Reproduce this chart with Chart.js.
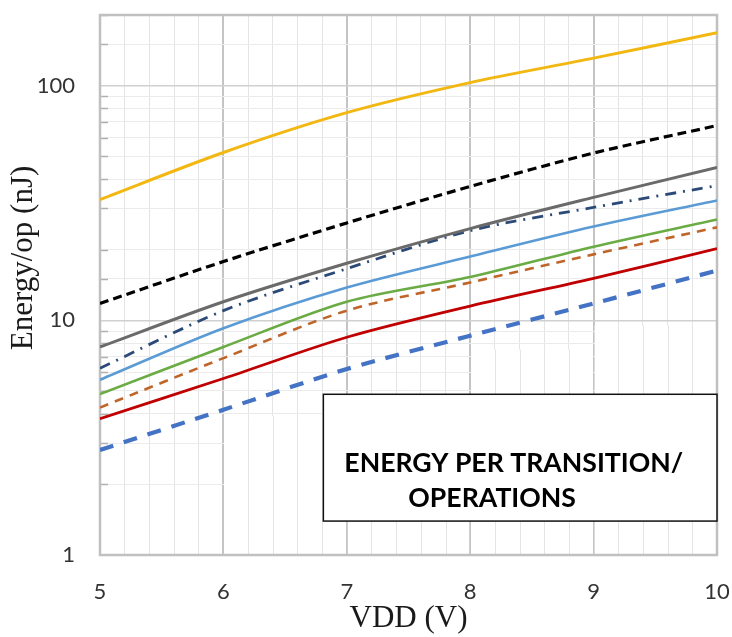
<!DOCTYPE html>
<html><head><meta charset="utf-8">
<script src="https://cdn.jsdelivr.net/npm/chart.js@4.4.0/dist/chart.umd.min.js"></script>
<style>html,body{margin:0;padding:0;background:#fff;}#wrap{width:732px;height:637px;}</style>
</head><body><div id="wrap"><canvas id="c" width="732" height="637"></canvas></div>
<script>
// ---- data ----
const vdd = [5, 6, 7, 8, 9, 10];
const seriesYellow   = [32.7, 51.9, 76.7, 103, 131, 168];
const seriesBlackDash = [11.8, 17.8, 26.0, 37.2, 51.6, 67.6];
const seriesGray     = [7.7, 12.0, 17.5, 24.6, 33.4, 44.8];
const seriesDashDot  = [6.25, 11.0, 16.6, 24.1, 30.3, 37.5];
const seriesLightBlue = [5.58, 9.25, 13.8, 18.7, 25.1, 32.4];
const seriesGreen    = [4.85, 7.7, 12.0, 15.3, 20.6, 26.9];
const seriesBrownDash = [4.25, 6.9, 11.0, 14.5, 19.1, 24.9];
const seriesRed      = [3.81, 5.65, 8.47, 11.5, 15.1, 20.2];
const seriesBlueDash = [2.8, 4.16, 6.2, 8.6, 11.8, 16.3];
const xTickLabels = [5, 6, 7, 8, 9, 10];
const yTickLabels = [1, 10, 100];
const xTitle = 'VDD (V)';
const yTitle = 'Energy/op (nJ)';
const noteLines = ['ENERGY PER TRANSITION/', 'OPERATIONS'];

// ---- decoration geometry (data units) ----
const noteBox = {x0: 6.81, x1: 10.0, y0: 1.395, y1: 4.84};
const blankPatches = [
  {x0: 6, x1: 7, y0: 1, y1: 3.9},
  {x0: 7, x1: 8, y0: 1, y1: 1.4},
  {x0: 8, x1: 9, y0: 1, y1: 7.5},
  {x0: 9, x1: 10, y0: 1, y1: 9.5}
];

const pts = arr => vdd.map((x, i) => ({x, y: arr[i]}));
const isInt = v => Math.abs(v - Math.round(v)) < 1e-6;
const isDecade = v => Math.abs(Math.log10(v) - Math.round(Math.log10(v))) < 1e-6;
const MINOR_V = '#e4e4e4', MAJOR_V = '#c4c4c4';

function ds(label, arr, color, width, dash) {
  return {label, data: pts(arr), borderColor: color, backgroundColor: color,
    borderWidth: width, borderDash: dash || [], pointRadius: 0, fill: false,
    tension: 0.3, borderCapStyle: 'butt'};
}
function zeroPad(s) { s.paddingTop = 0; s.paddingBottom = 0; s.paddingLeft = 0; s.paddingRight = 0; }

const decor = {
  id: 'decor',
  beforeDatasetsDraw(chart) {
    const {ctx, chartArea: a, scales: {x, y}} = chart;
    ctx.save();
    blankPatches.forEach(p => {
      const l = x.getPixelForValue(p.x0), r = x.getPixelForValue(p.x1);
      const t = y.getPixelForValue(p.y1), b = y.getPixelForValue(p.y0);
      ctx.fillStyle = '#fff';
      ctx.fillRect(l + 1, t, r - l - 2, b - t);
      ctx.strokeStyle = MINOR_V; ctx.lineWidth = 1;
      x.ticks.forEach(tk => {
        if (tk.value > p.x0 + 1e-6 && tk.value < p.x1 - 1e-6) {
          const px = Math.round(x.getPixelForValue(tk.value)) + 0.5;
          ctx.beginPath(); ctx.moveTo(px, t); ctx.lineTo(px, b); ctx.stroke();
        }
      });
    });
    // minor tick marks inside left axis
    ctx.strokeStyle = '#b0b0b0'; ctx.lineWidth = 1.5;
    y.ticks.forEach(tk => {
      if (!isDecade(tk.value)) {
        const py = Math.round(y.getPixelForValue(tk.value)) + 0.5;
        ctx.beginPath(); ctx.moveTo(a.left, py); ctx.lineTo(a.left + 8, py); ctx.stroke();
      }
    });
    // plot border
    ctx.strokeStyle = '#c0c0c0'; ctx.lineWidth = 2.5;
    ctx.strokeRect(a.left, a.top, a.right - a.left, a.bottom - a.top);
    ctx.restore();
  },
  afterDatasetsDraw(chart) {
    const {ctx, scales: {x, y}} = chart;
    ctx.save();
    const l = x.getPixelForValue(noteBox.x0), r = x.getPixelForValue(noteBox.x1);
    const t = y.getPixelForValue(noteBox.y1), b = y.getPixelForValue(noteBox.y0);
    ctx.fillStyle = '#fff';
    ctx.fillRect(l, t, r - l, b - t);
    ctx.strokeStyle = '#111'; ctx.lineWidth = 1.5;
    ctx.strokeRect(l, t, r - l, b - t);
    ctx.font = 'bold 100px Lato';
    const w = ctx.measureText(noteLines[0]).width;
    const fs = 100 * 339 / w;
    ctx.font = 'bold ' + fs.toFixed(2) + 'px Lato';
    ctx.fillStyle = '#000';
    ctx.textAlign = 'left'; ctx.textBaseline = 'middle';
    ctx.fillText(noteLines[0], l + 21, t + 69);
    ctx.fillText(noteLines[1], l + 85, t + 104);
    // y axis title
    ctx.translate(24, 258);
    ctx.rotate(-Math.PI / 2);
    ctx.font = '31px "Liberation Serif"';
    ctx.fillStyle = '#1a1a1a';
    ctx.textAlign = 'center'; ctx.textBaseline = 'middle';
    ctx.fillText(yTitle, 0, 0);
    ctx.restore();
  }
};

new Chart(document.getElementById('c'), {
  type: 'line',
  data: {datasets: [
    ds('Series 1', seriesYellow, '#f3b712', 3),
    ds('Series 2', seriesBlackDash, '#000000', 3.2, [9, 5]),
    ds('Series 3', seriesGray, '#6a6a6a', 3),
    ds('Series 4', seriesDashDot, '#2c4a78', 2.8, [11, 7, 2, 7]),
    ds('Series 5', seriesLightBlue, '#5b9bd5', 2.6),
    ds('Series 6', seriesGreen, '#6aab44', 2.6),
    ds('Series 7', seriesBrownDash, '#c0652a', 2.6, [9, 7]),
    ds('Series 8', seriesRed, '#c00000', 2.8),
    ds('Series 9', seriesBlueDash, '#4472c4', 4.2, [14, 11])
  ]},
  options: {
    responsive: false, animation: false,
    layout: {padding: {top: 15, right: 15, left: 0, bottom: 0}},
    plugins: {legend: {display: false}, tooltip: {enabled: false}},
    scales: {
      x: {
        type: 'linear', min: 5, max: 10,
        afterFit: s => { s.height = 82; zeroPad(s); },
        ticks: {stepSize: 0.2, autoSkip: false, maxRotation: 0, padding: 24,
          font: {family: 'Lato', size: 22}, color: '#333',
          callback: v => (isInt(v) && xTickLabels.includes(Math.round(v))) ? String(Math.round(v)) : ''},
        grid: {drawTicks: false,
          color: c => isInt(c.tick.value) ? MAJOR_V : MINOR_V,
          lineWidth: c => isInt(c.tick.value) ? 2 : 1},
        border: {display: false},
        title: {display: true, text: xTitle, font: {family: 'Liberation Serif', size: 31}, color: '#1a1a1a', padding: {top: 0, bottom: 0}}
      },
      y: {
        type: 'logarithmic', min: 1, max: 200,
        afterFit: s => { s.width = 100; zeroPad(s); },
        ticks: {autoSkip: false, padding: 25, font: {family: 'Lato', size: 22}, color: '#333',
          callback: v => yTickLabels.includes(Math.round(v)) && isDecade(v) ? String(Math.round(v)) : ''},
        grid: {drawTicks: false,
          color: c => isDecade(c.tick.value) ? '#d0d0d0' : '#ebebeb',
          lineWidth: c => isDecade(c.tick.value) ? 1.5 : 1},
        border: {display: false}
      }
    }
  },
  plugins: [decor]
});
</script></body></html>
